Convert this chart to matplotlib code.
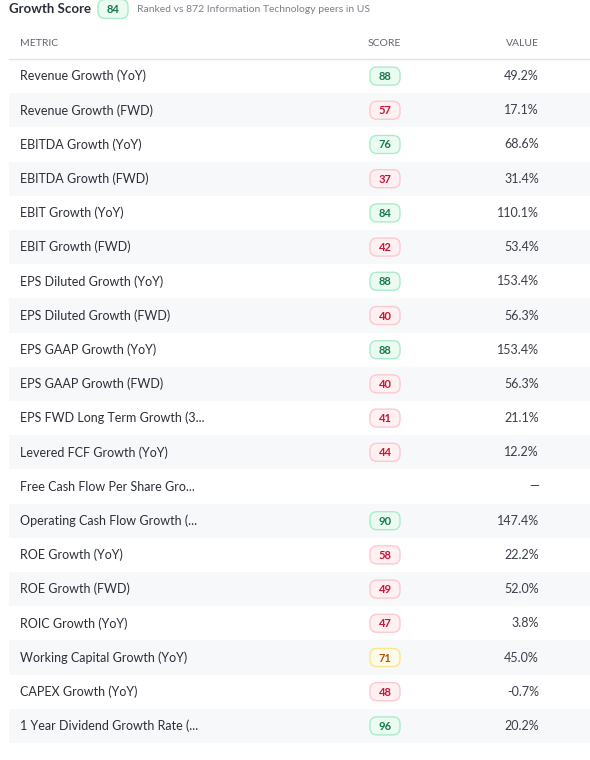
import matplotlib
matplotlib.use("Agg")
import matplotlib.pyplot as plt
from matplotlib.patches import FancyBboxPatch, Rectangle

metrics = ["Revenue Growth (YoY)", "Revenue Growth (FWD)", "EBITDA Growth (YoY)", "EBITDA Growth (FWD)",
           "EBIT Growth (YoY)", "EBIT Growth (FWD)", "EPS Diluted Growth (YoY)", "EPS Diluted Growth (FWD)",
           "EPS GAAP Growth (YoY)", "EPS GAAP Growth (FWD)", "EPS FWD Long Term Growth (3...",
           "Levered FCF Growth (YoY)", "Free Cash Flow Per Share Gro...", "Operating Cash Flow Growth (...",
           "ROE Growth (YoY)", "ROE Growth (FWD)", "ROIC Growth (YoY)", "Working Capital Growth (YoY)",
           "CAPEX Growth (YoY)", "1 Year Dividend Growth Rate (..."]
scores = [88, 57, 76, 37, 84, 42, 88, 40, 88, 40, 41, 44, None, 90, 58, 49, 47, 71, 48, 96]
values = ["49.2%", "17.1%", "68.6%", "31.4%", "110.1%", "53.4%", "153.4%", "56.3%", "153.4%", "56.3%",
          "21.1%", "12.2%", "—", "147.4%", "22.2%", "52.0%", "3.8%", "45.0%", "-0.7%", "20.2%"]
overall = 84
peers = 872

plt.rcParams['font.family'] = ['Lato', 'DejaVu Sans']
fig = plt.figure(figsize=(5.9, 7.6), dpi=100)
ax = fig.add_axes([0, 0, 1, 1])
ax.set_xlim(0, 590); ax.set_ylim(760, 0); ax.axis('off')

STY = {'g': ('#ebfbf2', '#a9ecc9', '#177a4c'),
       'r': ('#fff0f1', '#fcc9ce', '#cf1239'),
       'y': ('#fffbea', '#fde38f', '#b4540a')}

def style(s):
    if s >= 60 and s < 75 and False:
        return 'y'
    if s >= 75: return 'g'
    if s >= 60: return 'y'
    return 'r'

def badge(cx, cy, s, w=30, h=18, fs=8):
    f, e, t = STY[style(s)]
    ax.add_patch(FancyBboxPatch((cx - w/2 + 7, cy - h/2 + 7), w - 14, h - 14,
                                boxstyle="round,pad=7", fc=f, ec=e, lw=1))
    ax.text(cx, cy + 0.5, str(s), ha='center', va='center', fontsize=fs, color=t, fontweight='bold')

ax.text(9, 9, "Growth Score", fontsize=9.5, fontweight='bold', color='#2b2f38', va='center')
badge(113, 9, overall, w=30, h=19, fs=8)
ax.text(137, 9, f"Ranked vs {peers} Information Technology peers in US", fontsize=7.5,
        color='#7b808a', va='center')

hc = '#5f6570'
ax.text(20, 44, "METRIC", fontsize=7.5, color=hc, va='center')
ax.text(384, 44, "SCORE", fontsize=7.5, color=hc, va='center', ha='center')
ax.text(539, 44, "VALUE", fontsize=7.5, color=hc, va='center', ha='right')
ax.plot([9, 590], [58.5, 58.5], color='#dfe3e8', lw=1)

top, rh = 59, 34.2
for i, (m, s, v) in enumerate(zip(metrics, scores, values)):
    y0 = top + i * rh
    cy = y0 + rh / 2
    if i % 2 == 1:
        ax.add_patch(Rectangle((9, y0), 581, rh, fc='#f7f8fa', ec='none'))
    ax.text(20, cy, m, fontsize=9, color='#2b2f38', va='center')
    if s is not None:
        badge(385, cy, s)
    ax.text(539, cy, v, fontsize=9, color='#3a3f4a', va='center', ha='right')

fig.savefig("out.png", dpi=100)
